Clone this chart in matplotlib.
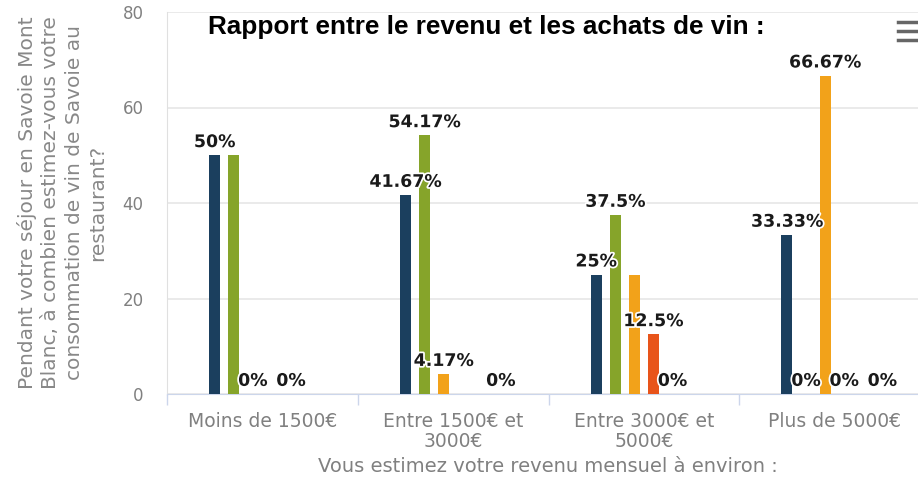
import matplotlib
matplotlib.use("Agg")
import matplotlib.pyplot as plt
import matplotlib.patheffects as pe
from matplotlib.lines import Line2D
import numpy as np

# données : part des réponses (%) par tranche de revenu
categories = ["Moins de 1500€", "Entre 1500€ et\n3000€", "Entre 3000€ et\n5000€", "Plus de 5000€"]
serie_1 = [50, 41.67, 25, 33.33]
serie_2 = [50, 54.17, 37.5, 0]
serie_3 = [0, 4.17, 25, 66.67]
serie_4 = [0, 0, 12.5, 0]
serie_5 = [0, 0, 0, 0]
serie_6 = [0, 0, 0, 0]
series = [serie_1, serie_2, serie_3, serie_4, serie_5, serie_6]
couleurs = ["#1b3f5e", "#86a42a", "#f2a21a", "#e8541a", "#7cb5ec", "#90ed7d"]

# étiquettes masquées quand elles se chevauchent (une ligne par série)
label_shown = [
    [1, 1, 1, 1],
    [0, 1, 1, 1],
    [1, 1, 0, 1],
    [0, 0, 1, 1],
    [1, 0, 1, 0],
    [0, 1, 0, 1],
]

titre = "Rapport entre le revenu et les achats de vin :"
titre_x = "Vous estimez votre revenu mensuel à environ :"
titre_y = ("Pendant votre séjour en Savoie Mont\nBlanc, à combien estimez-vous votre\n"
           "consommation de vin de Savoie au\nrestaurant?")

W, H = 918, 482
fig = plt.figure(figsize=(W / 100, H / 100), dpi=100)
fig.patch.set_facecolor("white")

# zone de tracé (en pixels) : gauche 167, droite 930, haut 12, bas 394
x0, x1, y0, y1 = 167, 930, 12, 394
ax = fig.add_axes([x0 / W, (H - y1) / H, (x1 - x0) / W, (y1 - y0) / H])

n = len(series)
pas = 0.1
largeur = 0.058
x = np.arange(len(categories))

for k, (vals, c) in enumerate(zip(series, couleurs)):
    pos = x + (k - (n - 1) / 2) * pas
    ax.bar(pos, vals, width=largeur, color=c, linewidth=0, zorder=3)
    for xi, v, show in zip(pos, vals, label_shown[k]):
        if not show:
            continue
        ax.annotate(f"{v:g}%", (xi, v), xytext=(0, 3), textcoords="offset points",
                    ha="center", va="bottom", fontsize=12.5, fontweight="bold",
                    color="#1a1a1a", zorder=5,
                    path_effects=[pe.withStroke(linewidth=2.5, foreground="white")])

ax.set_xlim(-0.5, len(categories) - 0.5)
ax.set_ylim(0, 80)
ax.set_yticks([0, 20, 40, 60, 80])
ax.yaxis.grid(True, color="#e6e6e6", linewidth=1.2, zorder=0)
ax.tick_params(axis="y", length=0, pad=17, labelsize=12, labelcolor="#808080")

# séparateurs entre catégories et libellés centrés
ax.set_xticks(np.arange(len(categories) + 1) - 0.5)
ax.set_xticklabels([])
ax.tick_params(axis="x", which="major", length=8, width=1, color="#ccd6eb", direction="out")
ax.set_xticks(x, minor=True)
ax.set_xticklabels(categories, minor=True, fontsize=13.5, color="#808080", linespacing=1.05)
ax.tick_params(axis="x", which="minor", length=0, pad=13)

for s in ["top", "right"]:
    ax.spines[s].set_visible(False)
ax.spines["bottom"].set_color("#ccd6eb")
ax.spines["left"].set_color("#e0e0e0")

fig.text(486 / W, 1 - 27 / H, titre, ha="center", va="center", fontsize=18.8,
         fontweight="bold", family="Liberation Sans", color="black")
fig.text(548 / W, 1 - 466 / H, titre_x, ha="center", va="center", fontsize=14, color="#808080")
fig.text(62 / W, 1 - 203 / H, titre_y, ha="center", va="center", rotation=90,
         fontsize=14.5, color="#888888", linespacing=1.3, multialignment="center")

# bouton de menu
for yy in (22, 31, 40):
    fig.add_artist(Line2D([898 / W, 918 / W], [1 - yy / H, 1 - yy / H], color="#666666",
                          linewidth=2.5, transform=fig.transFigure))

fig.savefig("out.png", dpi=100, facecolor="white")
